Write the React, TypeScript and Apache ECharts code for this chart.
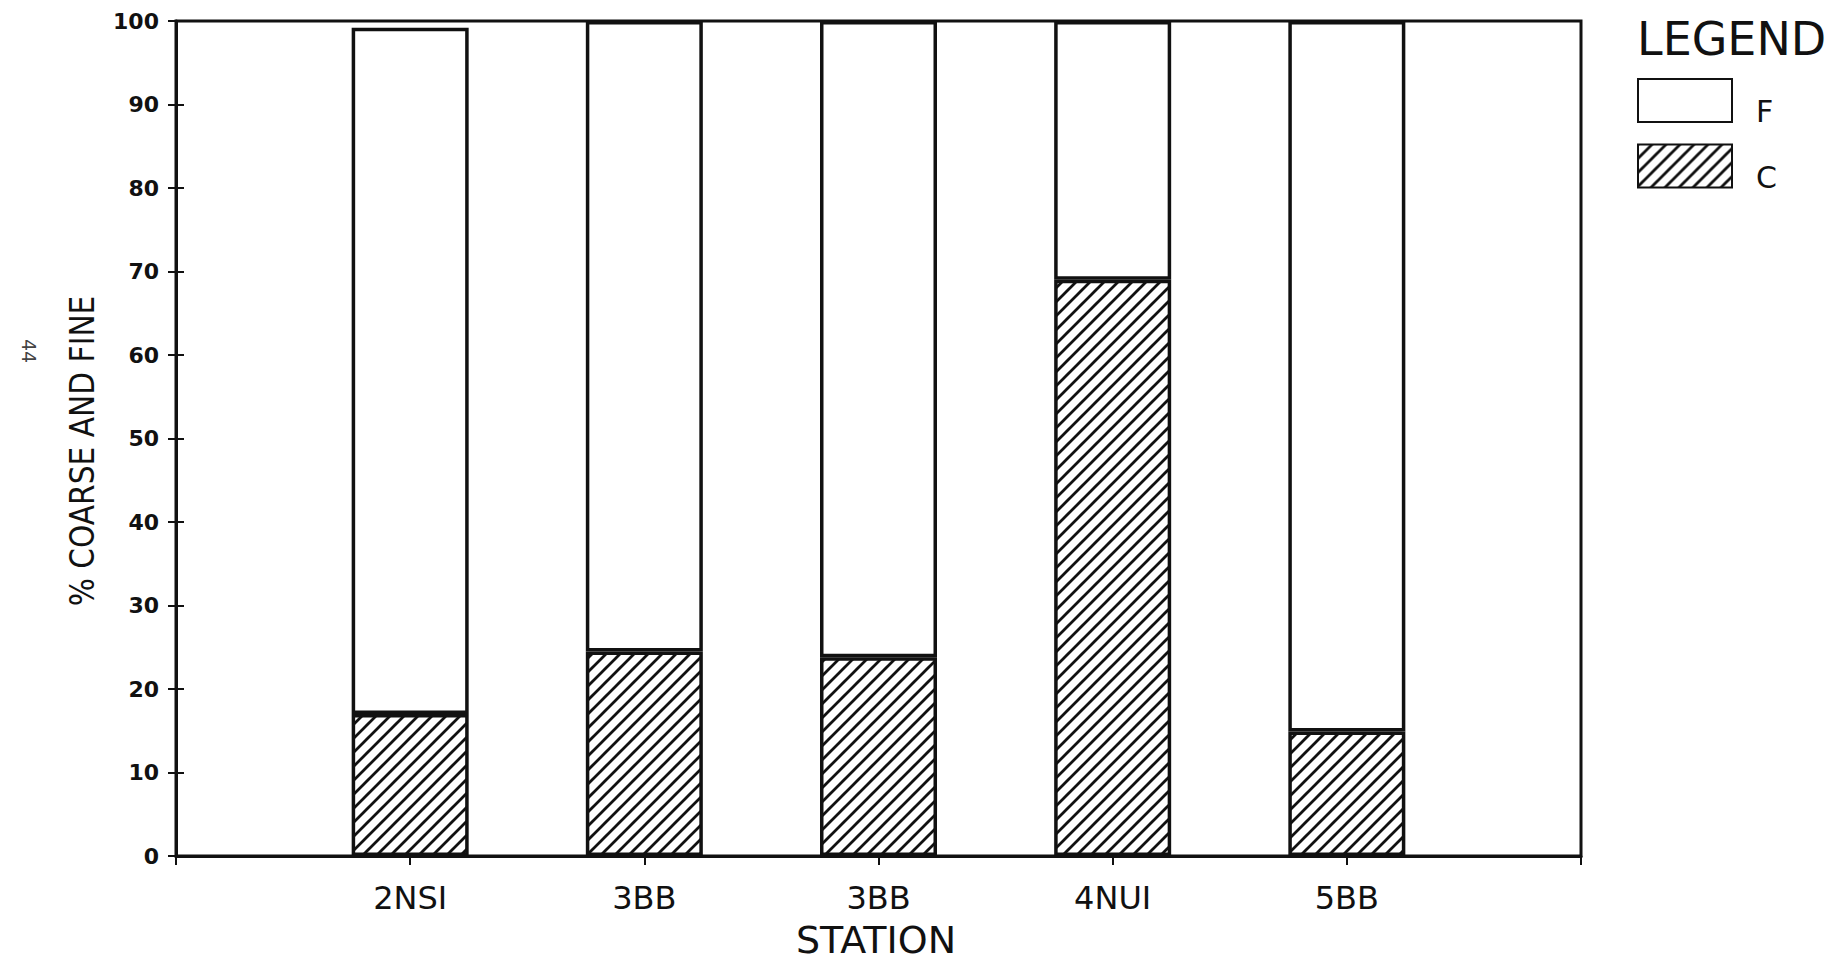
import React, { useEffect, useRef } from "react";
import * as echarts from "echarts";

const categories = ["", "2NSI", "3BB", "3BB", "4NUI", "5BB", ""];
const coarse = [null, 17.0, 24.5, 23.8, 69.0, 14.9, null];
const fine = [null, 82.2, 75.5, 76.2, 31.0, 85.1, null];
const yTicks = [0, 10, 20, 30, 40, 50, 60, 70, 80, 90, 100];

const INK = "#111";
const FONT = '"DejaVu Sans", "Liberation Sans", sans-serif';
const NARROW = '"DejaVu Sans Condensed", "Liberation Sans Narrow", "DejaVu Sans", sans-serif';

function makeHatch(): HTMLCanvasElement {
  const s = 14;
  const c = document.createElement("canvas");
  c.width = s;
  c.height = s;
  const ctx = c.getContext("2d")!;
  ctx.fillStyle = "#fff";
  ctx.fillRect(0, 0, s, s);
  ctx.strokeStyle = INK;
  ctx.lineWidth = 2.8;
  ctx.beginPath();
  ctx.moveTo(-s, s);
  ctx.lineTo(s, -s);
  ctx.moveTo(0, s);
  ctx.lineTo(s, 0);
  ctx.moveTo(0, 2 * s);
  ctx.lineTo(2 * s, 0);
  ctx.stroke();
  return c;
}

export default function App() {
  const ref = useRef<HTMLDivElement>(null);
  useEffect(() => {
    if (!ref.current) return;
    const chart = echarts.init(ref.current, undefined, { renderer: "svg" });
    const hatch = makeHatch();
    chart.setOption({
      animation: false,
      backgroundColor: "#fff",
      grid: {
        left: 176,
        right: 255,
        top: 21,
        bottom: 106,
        show: true,
        borderColor: INK,
        borderWidth: 3,
        backgroundColor: "transparent",
      },
      legend: {
        data: ["F", "C"],
        left: 1637,
        top: 78,
        padding: 0,
        orient: "vertical",
        itemWidth: 94,
        itemHeight: 43,
        itemGap: 17,
        icon: "rect",
        selectedMode: false,
        formatter: "{t|{name}}",
        textStyle: {
          fontSize: 30,
          color: INK,
          fontFamily: FONT,
          rich: {
            t: {
              fontSize: 30,
              color: INK,
              fontFamily: FONT,
              padding: [22, 0, 0, 19],
            },
          },
        },
      },
      xAxis: {
        type: "category",
        data: categories,
        boundaryGap: false,
        splitLine: { show: false },
        axisLine: { show: true, lineStyle: { color: INK, width: 3 } },
        axisTick: { show: true, length: 9, lineStyle: { color: INK, width: 2 } },
        axisLabel: {
          interval: 0,
          fontSize: 32,
          color: INK,
          fontFamily: FONT,
          margin: 26,
        },
      },
      yAxis: [
        {
          type: "value",
          min: yTicks[0],
          max: yTicks[yTicks.length - 1],
          interval: 10,
          splitLine: { show: false },
          axisLine: { show: true, lineStyle: { color: INK, width: 3 } },
          axisTick: { show: true, length: 8, lineStyle: { color: INK, width: 2 } },
          axisLabel: {
            fontSize: 22,
            fontWeight: "bold",
            color: INK,
            fontFamily: FONT,
            margin: 17,
          },
        },
        {
          type: "value",
          position: "left",
          min: yTicks[0],
          max: yTicks[yTicks.length - 1],
          interval: 10,
          splitLine: { show: false },
          axisLine: { show: false },
          axisTick: { show: true, inside: true, length: 8, lineStyle: { color: INK, width: 2 } },
          axisLabel: { show: false },
        },
      ],
      series: [
        {
          name: "C",
          type: "bar",
          stack: "total",
          barWidth: 117,
          data: coarse,
          itemStyle: {
            color: { image: hatch, repeat: "repeat" },
            borderColor: INK,
            borderWidth: 3.5,
          },
        },
        {
          name: "F",
          type: "bar",
          stack: "total",
          barWidth: 117,
          data: fine,
          itemStyle: { color: "#fff", borderColor: INK, borderWidth: 3.5 },
        },
      ],
      graphic: [
        {
          type: "text",
          x: 1637,
          y: 39,
          style: {
            text: "LEGEND",
            fontSize: 46,
            fontFamily: FONT,
            fill: INK,
            textAlign: "left",
            textVerticalAlign: "middle",
          },
        },
        {
          type: "text",
          x: 876,
          y: 940,
          style: {
            text: "STATION",
            fontSize: 38,
            fontFamily: FONT,
            fill: INK,
            textAlign: "center",
            textVerticalAlign: "middle",
          },
        },
        {
          type: "text",
          x: 82,
          y: 451,
          rotation: Math.PI / 2,
          style: {
            text: "% COARSE AND FINE",
            fontSize: 33,
            fontFamily: NARROW,
            fill: INK,
            textAlign: "center",
            textVerticalAlign: "middle",
          },
        },
        {
          type: "text",
          x: 29,
          y: 351,
          rotation: -Math.PI / 2,
          style: {
            text: "44",
            fontSize: 19,
            fontFamily: FONT,
            fill: "#444",
            textAlign: "center",
            textVerticalAlign: "middle",
          },
        },
      ],
    });
    return () => chart.dispose();
  }, []);
  return (
    <div
      ref={ref}
      style={{ position: "fixed", left: 0, top: 0, width: 1836, height: 962, background: "#fff" }}
    />
  );
}
